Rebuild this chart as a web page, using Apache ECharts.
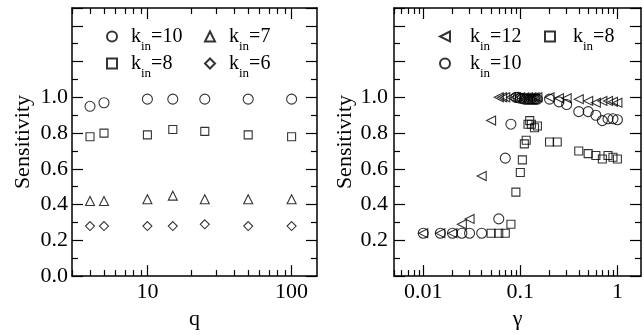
<!DOCTYPE html>
<html>
<head>
<meta charset="utf-8">
<script src="https://cdn.jsdelivr.net/npm/echarts@6/dist/echarts.min.js"></script>
<style>
html,body{margin:0;padding:0;background:#fff;}
#chart{width:644px;height:335px;}
</style>
</head>
<body>
<div id="chart"></div>
<script>
// 左图: q
var qVals = [4, 5, 10, 15, 25, 50, 100];
var q10 = [0.95, 0.97, 0.99, 0.99, 0.99, 0.99, 0.99];
var q8 = [0.78, 0.80, 0.79, 0.82, 0.81, 0.79, 0.78];
var q7 = [0.42, 0.42, 0.43, 0.45, 0.43, 0.43, 0.43];
var q6 = [0.28, 0.28, 0.28, 0.28, 0.29, 0.28, 0.28];
// 右图: gamma
var g12 = [0.01, 0.015, 0.02, 0.025, 0.03, 0.04, 0.05, 0.06, 0.065, 0.07, 0.08, 0.09, 0.1, 0.11, 0.12, 0.13, 0.14, 0.15, 0.2, 0.25, 0.3, 0.4, 0.5, 0.6, 0.7, 0.8, 0.9, 1];
var s12 = [0.24, 0.24, 0.24, 0.29, 0.32, 0.56, 0.87, 1.0, 1.0, 1.0, 1.0, 1.0, 1.0, 1.0, 1.0, 1.0, 1.0, 1.0, 1.0, 0.995, 0.995, 0.99, 0.98, 0.97, 0.98, 0.98, 0.975, 0.97];
var g10 = [0.01, 0.015, 0.02, 0.025, 0.03, 0.04, 0.06, 0.07, 0.08, 0.09, 0.095, 0.1, 0.105, 0.11, 0.115, 0.12, 0.125, 0.13, 0.135, 0.14, 0.145, 0.15, 0.2, 0.25, 0.3, 0.4, 0.5, 0.6, 0.7, 0.8, 0.9, 1];
var s10 = [0.24, 0.24, 0.24, 0.24, 0.24, 0.24, 0.32, 0.66, 0.85, 1.0, 1.0, 0.995, 0.995, 0.99, 0.99, 0.99, 0.99, 0.99, 0.99, 0.99, 0.99, 0.99, 0.99, 0.975, 0.96, 0.92, 0.92, 0.90, 0.87, 0.88, 0.88, 0.875];
var g8 = [0.05, 0.06, 0.07, 0.08, 0.09, 0.1, 0.105, 0.11, 0.115, 0.12, 0.125, 0.13, 0.14, 0.15, 0.2, 0.24, 0.4, 0.5, 0.6, 0.7, 0.8, 0.9, 1];
var s8 = [0.24, 0.24, 0.24, 0.29, 0.47, 0.58, 0.65, 0.74, 0.76, 0.85, 0.87, 0.85, 0.83, 0.84, 0.75, 0.75, 0.70, 0.685, 0.675, 0.655, 0.675, 0.665, 0.655];
// 刻度
var qMajor = [10, 100];
var qMinor = [3, 4, 5, 6, 7, 8, 9, 20, 30, 40, 50, 60, 70, 80, 90];
var gMajor = [0.01, 0.1, 1];
var gMinor = [0.005, 0.006, 0.007, 0.008, 0.009, 0.02, 0.03, 0.04, 0.05, 0.06, 0.07, 0.08, 0.09, 0.2, 0.3, 0.4, 0.5, 0.6, 0.7, 0.8, 0.9];

var FONT = '"Times New Roman", "Liberation Serif", Tinos, Times, serif';
// 左指三角
var LEFT_TRI = 'path://M10,0L0,5L10,10Z';

function pairs(xs, ys) {
	var out = [];
	for (var i = 0; i < xs.length; i++) {
		out.push([xs[i], ys[i]]);
	}
	return out;
}

function makeRich(gap) {
	return {
		k0: {fontSize: 20, lineHeight: 20, verticalAlign: 'top', fontFamily: FONT, color: '#000', padding: [0, 0, 0, gap]},
		k: {fontSize: 20, lineHeight: 20, verticalAlign: 'top', fontFamily: FONT, color: '#000'},
		s: {fontSize: 13, lineHeight: 13, verticalAlign: 'top', fontFamily: FONT, color: '#000', padding: [14, 0, 0, 0]}
	};
}
function legendText(name) {
	return '{k0|k}{s|in}{k|=' + name.split('=')[1] + '}';
}
// 图例: 每项单独放
function makeLegend(item, left, top, gap) {
	return {
		data: [item], left: left, top: top, padding: 0,
		itemWidth: 10, itemHeight: 10, selectedMode: false,
		formatter: legendText,
		textStyle: {color: '#000', fontFamily: FONT, rich: makeRich(gap)}
	};
}

// x轴: 主刻度 + 次刻度, 上下各一条
function xAxes(grid, min, max, major, minor, name, nameGap) {
	var line = {show: true, lineStyle: {color: '#000', width: 1.5}};
	return [
		{type: 'log', gridIndex: grid, min: min, max: max, position: 'bottom',
			axisLine: line,
			axisTick: {show: true, inside: true, length: 11, customValues: major, lineStyle: {color: '#000', width: 1.2}},
			axisLabel: {show: true, customValues: major, color: '#000', fontSize: 22, fontFamily: FONT, margin: 5},
			splitLine: {show: false},
			name: name, nameLocation: 'middle', nameGap: nameGap,
			nameTextStyle: {color: '#000', fontSize: 22, fontFamily: FONT}},
		{type: 'log', gridIndex: grid, min: min, max: max, position: 'bottom',
			axisLine: {show: false},
			axisTick: {show: true, inside: true, length: 6, customValues: minor, lineStyle: {color: '#000', width: 1.2}},
			axisLabel: {show: false}, splitLine: {show: false}},
		{type: 'log', gridIndex: grid, min: min, max: max, position: 'top',
			axisLine: line,
			axisTick: {show: true, inside: true, length: 11, customValues: major, lineStyle: {color: '#000', width: 1.2}},
			axisLabel: {show: false}, splitLine: {show: false}},
		{type: 'log', gridIndex: grid, min: min, max: max, position: 'top',
			axisLine: {show: false},
			axisTick: {show: true, inside: true, length: 6, customValues: minor, lineStyle: {color: '#000', width: 1.2}},
			axisLabel: {show: false}, splitLine: {show: false}}
	];
}

function yAxes(grid, showZero, margin, nameGap) {
	var base = {
		type: 'value', gridIndex: grid, min: 0, max: 1.5, interval: 0.2,
		axisLine: {show: true, lineStyle: {color: '#000', width: 1.5}},
		axisTick: {show: true, inside: true, length: 11, lineStyle: {color: '#000', width: 1.2}},
		minorTick: {show: true, splitNumber: 2, length: 6, lineStyle: {color: '#000', width: 1.2}},
		splitLine: {show: false}
	};
	var left = echarts.util.merge({
		position: 'left',
		axisLabel: {
			color: '#000', fontSize: 22, fontFamily: FONT, margin: margin,
			formatter: function (v) {
				if (v > 1.001) return '';
				if (!showZero && v < 0.001) return '';
				return v.toFixed(1);
			}
		},
		name: 'Sensitivity', nameLocation: 'middle', nameGap: nameGap,
		nameTextStyle: {color: '#000', fontSize: 22, fontFamily: FONT}
	}, base, true);
	var right = echarts.util.merge({position: 'right', axisLabel: {show: false}}, base, true);
	return [left, right];
}

function sc(name, x, y, data, symbol, size) {
	return {
		name: name, type: 'scatter', xAxisIndex: x, yAxisIndex: y,
		data: data, symbol: symbol, symbolSize: size,
		itemStyle: {color: 'rgba(0,0,0,0)', borderColor: '#000', borderWidth: 1.1},
		emphasis: {disabled: true}, silent: true
	};
}

var dom = document.getElementById('chart');
var myChart = echarts.init(dom);

var option = {
	animation: false,
	backgroundColor: '#fff',
	textStyle: {fontFamily: FONT},
	grid: [
		{left: 72, top: 8, width: 245, height: 280},
		{left: 394, top: 8, width: 247, height: 280}
	],
	xAxis: xAxes(0, 3, 150, qMajor, qMinor, 'q', 18).concat(xAxes(1, 0.005, 1.75, gMajor, gMinor, 'γ', 18)),
	yAxis: yAxes(0, true, 4, 38).concat(yAxes(1, false, 6, 36)),
	legend: [
		makeLegend('q k=10', 106, 26.5, 9),
		makeLegend('q k=7', 204, 26.5, 9),
		makeLegend('q k=8', 106, 53.5, 9),
		makeLegend('q k=6', 204, 53.5, 9),
		makeLegend({name: 'g k=12', icon: LEFT_TRI}, 439, 26.5, 15),
		makeLegend('g k=8', 544, 26.5, 13),
		makeLegend('g k=10', 439, 53.5, 15)
	],
	series: [
		sc('q k=10', 0, 0, pairs(qVals, q10), 'circle', 10),
		sc('q k=7', 0, 0, pairs(qVals, q7), 'triangle', 9),
		sc('q k=8', 0, 0, pairs(qVals, q8), 'rect', 8),
		sc('q k=6', 0, 0, pairs(qVals, q6), 'diamond', 9),
		sc('g k=12', 4, 2, pairs(g12, s12), LEFT_TRI, 9),
		sc('g k=8', 4, 2, pairs(g8, s8), 'rect', 8),
		sc('g k=10', 4, 2, pairs(g10, s10), 'circle', 10)
	]
};
if (option && typeof option === "object") {
	myChart.setOption(option, true);
}
</script>
</body>
</html>
